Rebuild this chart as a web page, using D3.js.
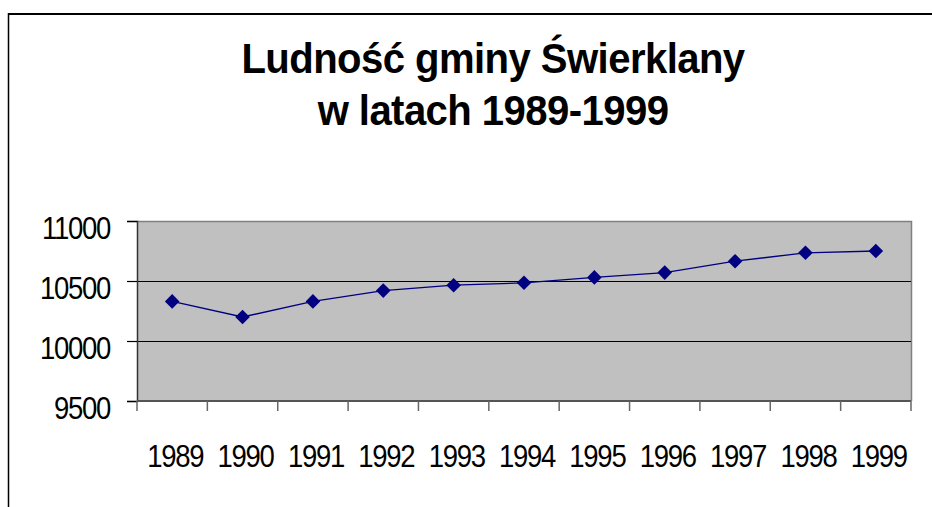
<!DOCTYPE html>
<html><head><meta charset="utf-8">
<script src="https://cdn.jsdelivr.net/npm/d3@7"></script>
<style>body{margin:0;background:#fff}svg{display:block}</style>
</head><body><svg id="c" width="932" height="507"></svg>
<script>
const years = ["1989","1990","1991","1992","1993","1994","1995","1996","1997","1998","1999"];
const population = [10330,10200,10330,10420,10465,10485,10530,10570,10665,10735,10750];
const yTicks = [9500,10000,10500,11000];
const titleLines = ["Ludność gminy Świerklany","w latach 1989-1999"];

const svg = d3.select("#c");
const m = {left:137, right:911, top:221, bottom:401};
const x = d3.scaleBand().domain(years).range([m.left, m.right]);
const y = d3.scaleLinear().domain([9500, 11000]).range([m.bottom, m.top]);

// outer frame
svg.append("line").attr("x1",8).attr("x2",932).attr("y1",14).attr("y2",14).attr("stroke","#000").attr("stroke-width",2);
svg.append("line").attr("x1",8.5).attr("x2",8.5).attr("y1",13).attr("y2",507).attr("stroke","#000").attr("stroke-width",1.5);

// title
svg.append("g").selectAll("text").data(titleLines).join("text")
  .attr("transform",(d,i)=>`translate(493,${73+i*52}) scale(0.955,1)`)
  .attr("text-anchor","middle")
  .attr("font-family","Liberation Sans, Arial, sans-serif")
  .attr("font-weight","bold").attr("font-size",42)
  .attr("letter-spacing",-0.6)
  .text(d=>d);

// plot area
svg.append("rect").attr("x",m.left).attr("y",m.top).attr("width",m.right-m.left).attr("height",m.bottom-m.top)
  .attr("fill","#c0c0c0");
svg.append("path").attr("d",`M${m.left},${m.top+0.5}H${m.right+0.5}V${m.bottom}`).attr("fill","none").attr("stroke","#808080").attr("stroke-width",1.5);

// gridlines
svg.append("g").selectAll("line").data(yTicks.filter(t=>t>9500 && t<11000)).join("line")
  .attr("x1",m.left).attr("x2",m.right).attr("y1",d=>Math.round(y(d))+0.5).attr("y2",d=>Math.round(y(d))+0.5)
  .attr("stroke","#000").attr("stroke-width",1.2);

// y axis
const ya = svg.append("g").attr("transform",`translate(${m.left},0)`)
  .call(d3.axisLeft(y).tickValues(yTicks).tickSize(10).tickFormat(d3.format("d")));
ya.select(".domain").attr("stroke","#333").attr("stroke-width",1.5);
ya.selectAll(".tick line").attr("stroke","#000").attr("stroke-width",1.2);
ya.selectAll(".tick text").attr("x",0).attr("dy","0.55em")
  .attr("transform","translate(-27,0) scale(0.86,1)")
  .attr("font-family","Liberation Sans, Arial, sans-serif").attr("font-size",32).attr("letter-spacing",-1.5)
  .attr("fill","#000");

// x axis
const xb = years.map(d=>x(d)).concat([m.right]);
const xg = svg.append("g");
xg.append("line").attr("x1",m.left).attr("x2",m.right).attr("y1",m.bottom).attr("y2",m.bottom).attr("stroke","#555").attr("stroke-width",2);
xg.selectAll("line.t").data(xb).join("line").attr("class","t")
  .attr("x1",d=>d).attr("x2",d=>d).attr("y1",m.bottom).attr("y2",m.bottom+10)
  .attr("stroke","#666").attr("stroke-width",1.5);
xg.selectAll("text").data(years).join("text")
  .attr("transform",d=>`translate(${x(d)+x.bandwidth()/2+3},467) scale(0.86,1)`)
  .attr("text-anchor","middle")
  .attr("font-family","Liberation Sans, Arial, sans-serif").attr("font-size",32).attr("letter-spacing",-1.5)
  .attr("fill","#000").text(d=>d);

// line + markers
const cx = (d,i)=>x(years[i])+x.bandwidth()/2;
svg.append("path").datum(population)
  .attr("d",d3.line().x(cx).y(d=>y(d)))
  .attr("fill","none").attr("stroke","#000080").attr("stroke-width",1.3);
svg.append("g").selectAll("path").data(population).join("path")
  .attr("d",(d,i)=>{const px=cx(d,i), py=y(d), r=7.3; return `M${px},${py-r}L${px+r},${py}L${px},${py+r}L${px-r},${py}Z`;})
  .attr("fill","#000080");
</script></body></html>
